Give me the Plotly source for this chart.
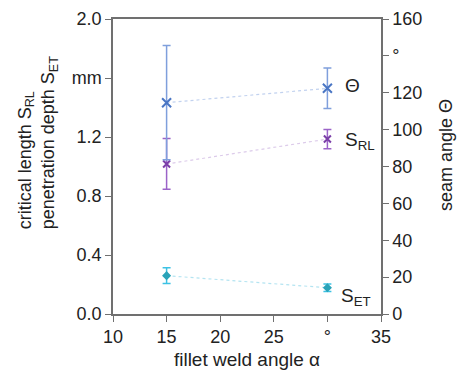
import plotly.graph_objects as go

angles = [15, 30]
theta = [114.6, 122.4]
theta_err = [31, 11]
srl = [1.017, 1.186]
srl_err = [0.172, 0.065]
set_ = [0.26, 0.178]
set_err = [0.054, 0.026]

x_tickvals = [10, 15, 20, 25, 30, 35]
x_ticktext = ["10", "15", "20", "25", "°", "35"]
yl_tickvals = [0, 0.4, 0.8, 1.2, 1.6, 2.0]
yl_ticktext = ["0.0", "0.4", "0.8", "1.2", "mm", "2.0"]
yr_tickvals = [0, 20, 40, 60, 80, 100, 120, 140, 160]
yr_ticktext = ["0", "20", "40", "60", "80", "100", "120", "°", "160"]

FONT = "Liberation Sans, Arial, sans-serif"
axcol = "#707070"
TXT = "#222222"

fig = go.Figure()
fig.add_trace(go.Scatter(
    x=angles, y=theta, yaxis="y2", mode="lines+markers",
    line=dict(color="#c2d2ef", width=1.2, dash="dot"),
    marker=dict(symbol="x-thin", size=9, line=dict(color="#4a76c4", width=2)),
    error_y=dict(type="data", array=theta_err, color="#7f9fdc", thickness=1.5, width=4),
    showlegend=False))
fig.add_trace(go.Scatter(
    x=angles, y=srl, mode="lines+markers",
    line=dict(color="#dccbea", width=1.2, dash="dot"),
    marker=dict(symbol="x-thin", size=7, line=dict(color="#7b3fa8", width=2)),
    error_y=dict(type="data", array=srl_err, color="#9b63c8", thickness=1.5, width=4),
    showlegend=False))
fig.add_trace(go.Scatter(
    x=angles, y=set_, mode="lines+markers",
    line=dict(color="#b4e4f1", width=1.2, dash="dot"),
    marker=dict(symbol="diamond", size=7, color="#2aa3b8"),
    error_y=dict(type="data", array=set_err, color="#3cc2e4", thickness=1.5, width=4),
    showlegend=False))

fig.add_annotation(x=32.3, y=123.7, yref="y2", text="Θ", showarrow=False,
                   font=dict(size=19, color=TXT), xanchor="center", yanchor="middle")
fig.add_annotation(x=31.45, y=1.17, text="S<sub>RL</sub>", showarrow=False,
                   font=dict(size=19, color=TXT), xanchor="left", yanchor="middle")
fig.add_annotation(x=31.1, y=0.115, text="S<sub>ET</sub>", showarrow=False,
                   font=dict(size=19, color=TXT), xanchor="left", yanchor="middle")

# axis titles
fig.add_annotation(xref="paper", yref="paper", x=-0.28, y=0.28,
                   text="critical length S<sub>RL</sub><br>penetration depth S<sub>ET</sub>",
                   textangle=-90, showarrow=False, align="left",
                   xanchor="center", yanchor="bottom",
                   font=dict(size=18, color=TXT))
fig.add_annotation(xref="paper", yref="paper", x=1.24, y=0.54,
                   text="seam angle Θ", textangle=-90, showarrow=False,
                   xanchor="center", yanchor="middle",
                   font=dict(size=18, color=TXT))

axis_common = dict(showline=True, linecolor=axcol, linewidth=1.5, ticks="outside",
                   tickcolor=axcol, ticklen=6, showgrid=False, zeroline=False,
                   automargin=False,
                   tickfont=dict(size=18, color=TXT, family=FONT))

fig.update_layout(
    width=457, height=376, margin=dict(l=113, r=76, t=19, b=62, autoexpand=False),
    paper_bgcolor="white", plot_bgcolor="white",
    font=dict(family=FONT, size=18, color=TXT),
    xaxis=dict(range=[10, 35], tickvals=x_tickvals, ticktext=x_ticktext, mirror=True,
               title=dict(text="fillet weld angle α", font=dict(size=19), standoff=6),
               **axis_common),
    yaxis=dict(range=[0, 2.0], tickvals=yl_tickvals, ticktext=yl_ticktext, **axis_common),
    yaxis2=dict(range=[0, 160], tickvals=yr_tickvals, ticktext=yr_ticktext,
                overlaying="y", side="right", **axis_common),
)
fig.write_html("out.html")
